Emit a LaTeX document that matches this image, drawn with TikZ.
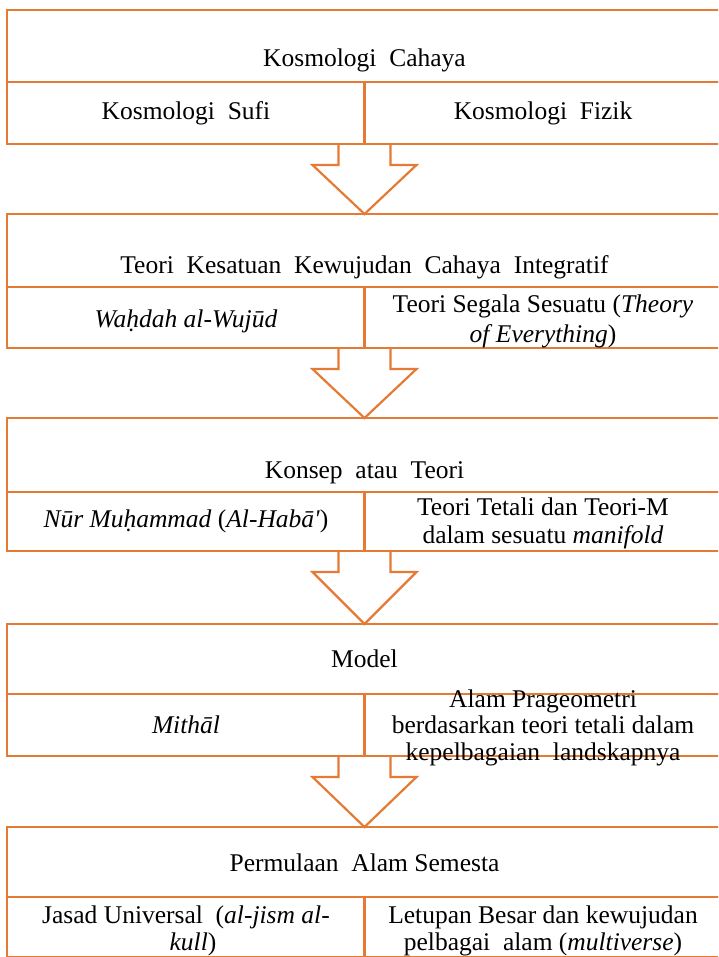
\documentclass[tikz,border=0pt]{standalone}
\usepackage{fontspec}
\setmainfont{Liberation Serif}
\usetikzlibrary{calc}
\definecolor{orangeline}{HTML}{E57A35}
\tikzset{
  cell/.style={draw=orangeline, line width=2.2pt, rectangle, inner sep=0pt, outer sep=0pt, anchor=north west},
  txt/.style={anchor=base, inner sep=0pt, font=\fontsize{25.5pt}{27.5pt}\selectfont},
  blockarrow/.style={draw=orangeline, line width=2.2pt, line join=miter}
}
\newcommand\dnarrow[2]{%
  \draw[blockarrow] ($(#1)+(-26,0)$) -- ($(#1)+(-26,-21)$) -- ($(#1)+(-52,-21)$) -- (#2)
    -- ($(#1)+(52,-21)$) -- ($(#1)+(26,-21)$) -- ($(#1)+(26,0)$);}
\begin{document}
\begin{tikzpicture}[x=1pt,y=1pt]
\useasboundingbox (0,0) rectangle (718,-957);
\clip (0,0) rectangle (718,-957);
% anchor coordinates for arrows
\coordinate (a1s) at (364.5,-144); \coordinate (a1t) at (364.5,-214);
\coordinate (a2s) at (364.5,-348); \coordinate (a2t) at (364.5,-418);
\coordinate (a3s) at (364.5,-551); \coordinate (a3t) at (364.5,-624);
\coordinate (a4s) at (364.5,-756); \coordinate (a4t) at (364.5,-827);
\dnarrow{a1s}{a1t}
\dnarrow{a2s}{a2t}
\dnarrow{a3s}{a3t}
\dnarrow{a4s}{a4t}
% Box 1
\node[cell, minimum width=715pt, minimum height=72pt] (b1t) at (7,-10) {};
\node[cell, minimum width=357.5pt, minimum height=62pt] (b1l) at (7,-82) {};
\node[cell, minimum width=357.5pt, minimum height=62pt] (b1r) at (364.5,-82) {};
% Box 2
\node[cell, minimum width=715pt, minimum height=73pt] (b2t) at (7,-214) {};
\node[cell, minimum width=357.5pt, minimum height=61pt] (b2l) at (7,-287) {};
\node[cell, minimum width=357.5pt, minimum height=61pt] (b2r) at (364.5,-287) {};
% Box 3
\node[cell, minimum width=715pt, minimum height=74pt] (b3t) at (7,-418) {};
\node[cell, minimum width=357.5pt, minimum height=59pt] (b3l) at (7,-492) {};
\node[cell, minimum width=357.5pt, minimum height=59pt] (b3r) at (364.5,-492) {};
% Box 4
\node[cell, minimum width=715pt, minimum height=70pt] (b4t) at (7,-624) {};
\node[cell, minimum width=357.5pt, minimum height=62pt] (b4l) at (7,-694) {};
\node[cell, minimum width=357.5pt, minimum height=62pt] (b4r) at (364.5,-694) {};
% Box 5
\node[cell, minimum width=715pt, minimum height=70pt] (b5t) at (7,-827) {};
\node[cell, minimum width=357.5pt, minimum height=60pt] (b5l) at (7,-897) {};
\node[cell, minimum width=357.5pt, minimum height=60pt] (b5r) at (364.5,-897) {};
% Texts box 1
\node[txt] (t1) at (364.5,-67) {Kosmologi\ \ Cahaya};
\node[txt] (t1l) at (186,-120) {Kosmologi\ \ Sufi};
\node[txt] (t1r) at (543,-120) {Kosmologi\ \ Fizik};
% Texts box 2
\node[txt] (t2) at (364.5,-274) {Teori\ \ Kesatuan\ \ Kewujudan\ \ Cahaya\ \ Integratif};
\node[txt] (t2l) at (186,-327) {\textit{Waḥdah al-Wujūd}};
\node[txt] (t2r1) at (543,-312) {Teori Segala Sesuatu (\textit{Theory}};
\node[txt] (t2r2) at (543,-342) {\textit{of Everything})};
% Texts box 3
\node[txt] (t3) at (364.5,-478) {Konsep\ \ atau\ \ Teori};
\node[txt] (t3l) at (186,-527) {\textit{Nūr Muḥammad} (\textit{Al-Habā\textquotesingle})};
\node[txt] (t3r1) at (543,-515) {Teori Tetali dan Teori-M};
\node[txt] (t3r2) at (543,-543) {dalam sesuatu \textit{manifold}};
% Texts box 4
\node[txt] (t4) at (364.5,-667) {Model};
\node[txt] (t4l) at (186,-733) {\textit{Mithāl}};
\node[txt] (t4r1) at (543,-707) {Alam Prageometri};
\node[txt] (t4r2) at (543,-733) {berdasarkan teori tetali dalam};
\node[txt] (t4r3) at (543,-760) {kepelbagaian\ \ landskapnya};
% Texts box 5
\node[txt] (t5) at (364.5,-871) {Permulaan\ \ Alam Semesta};
\node[txt] (t5l1) at (186,-923) {Jasad Universal\ \ (\textit{al-jism al-}};
\node[txt] (t5l2) at (193,-950) {\textit{kull})};
\node[txt] (t5r1) at (543,-923) {Letupan Besar dan kewujudan};
\node[txt] (t5r2) at (543,-950) {pelbagai\ \ alam (\textit{multiverse})};
\end{tikzpicture}
\end{document}
